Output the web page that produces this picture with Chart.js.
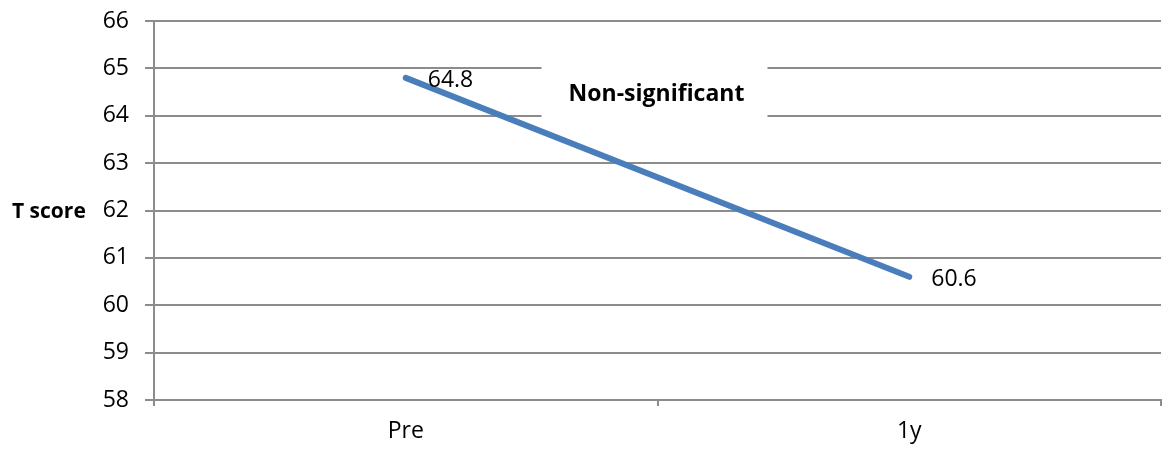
<!DOCTYPE html>
<html>
<head>
<meta charset="utf-8">
<title>T score</title>
<script src="https://cdn.jsdelivr.net/npm/chart.js@4.4.1/dist/chart.umd.min.js"></script>
<style>
  html, body { margin: 0; padding: 0; background: #ffffff; }
  #wrap { position: relative; width: 1162px; height: 451px; }
</style>
</head>
<body>
<div id="wrap"><canvas id="chart" width="1162" height="451"></canvas></div>
<script>
// Time points and mean T scores
const categories = ['Pre', '1y'];
const tScores = [64.8, 60.6];
const yTickValues = [58, 59, 60, 61, 62, 63, 64, 65, 66];
const axisTitle = 'T score';
const noteText = 'Non-significant';
const noteValue = 64.5;

const FONT = "'Open Sans', 'DejaVu Sans', sans-serif";
const GRID = '#8c8c8c';
const LINE = '#4a7ebb';

// White box with the significance note, drawn over the grid but under the line
const notePlugin = {
  id: 'note',
  beforeDatasetsDraw(chart) {
    const { ctx, chartArea, scales } = chart;
    const cx = (chartArea.left + chartArea.right) / 2;
    const cy = scales.y.getPixelForValue(noteValue);
    const top = scales.y.getPixelForValue(65.3);
    const bottom = scales.y.getPixelForValue(63.8);
    ctx.save();
    ctx.fillStyle = '#ffffff';
    ctx.fillRect(cx - 116, top, 226, bottom - top);
    ctx.font = 'bold 23px ' + FONT;
    ctx.fillStyle = '#000000';
    ctx.textAlign = 'center';
    ctx.textBaseline = 'alphabetic';
    ctx.fillText(noteText, cx - 1, cy + 9);
    ctx.restore();
  }
};

// Value labels to the right of each point, plus the horizontal axis title
const labelPlugin = {
  id: 'valueLabels',
  afterDatasetsDraw(chart) {
    const { ctx, scales } = chart;
    const meta = chart.getDatasetMeta(0);
    ctx.save();
    ctx.font = '23px ' + FONT;
    ctx.fillStyle = '#000000';
    ctx.textAlign = 'left';
    ctx.textBaseline = 'alphabetic';
    meta.data.forEach((pt, i) => {
      ctx.fillText(String(tScores[i]), pt.x + 22, pt.y + 9);
    });
    ctx.font = 'bold 21px ' + FONT;
    ctx.fillText(axisTitle, 12, scales.y.getPixelForValue(62) + 7);
    ctx.restore();
  }
};

new Chart(document.getElementById('chart'), {
  type: 'line',
  data: {
    labels: categories,
    datasets: [{
      data: tScores,
      borderColor: LINE,
      borderWidth: 6,
      borderCapStyle: 'round',
      pointRadius: 0,
      pointHoverRadius: 0,
      tension: 0,
      fill: false
    }]
  },
  options: {
    responsive: false,
    animation: false,
    events: [],
    layout: { padding: { top: 21, right: 1, left: 0, bottom: 0 } },
    plugins: {
      legend: { display: false },
      tooltip: { enabled: false },
      title: { display: false }
    },
    scales: {
      x: {
        type: 'category',
        offset: true,
        grid: {
          offset: true,
          drawOnChartArea: false,
          drawTicks: true,
          tickLength: 6,
          color: GRID,
          lineWidth: 2
        },
        border: { display: true, color: GRID, width: 2 },
        ticks: {
          color: '#000000',
          font: { family: FONT, size: 23 },
          padding: 12,
          maxRotation: 0
        },
        afterFit(scale) {
          scale.height = 51;
          scale.paddingLeft = 0;
          scale.paddingRight = 0;
        }
      },
      y: {
        min: yTickValues[0],
        max: yTickValues[yTickValues.length - 1],
        afterBuildTicks(scale) {
          scale.ticks = yTickValues.map(v => ({ value: v }));
        },
        grid: {
          color: GRID,
          lineWidth: 2,
          drawTicks: true,
          tickLength: 9
        },
        border: { display: true, color: GRID, width: 2 },
        ticks: {
          color: '#000000',
          font: { family: FONT, size: 23 },
          padding: 16
        },
        afterFit(scale) {
          scale.width = 154;
          scale.paddingTop = 0;
          scale.paddingBottom = 0;
        }
      }
    }
  },
  plugins: [notePlugin, labelPlugin]
});
</script>
</body>
</html>
